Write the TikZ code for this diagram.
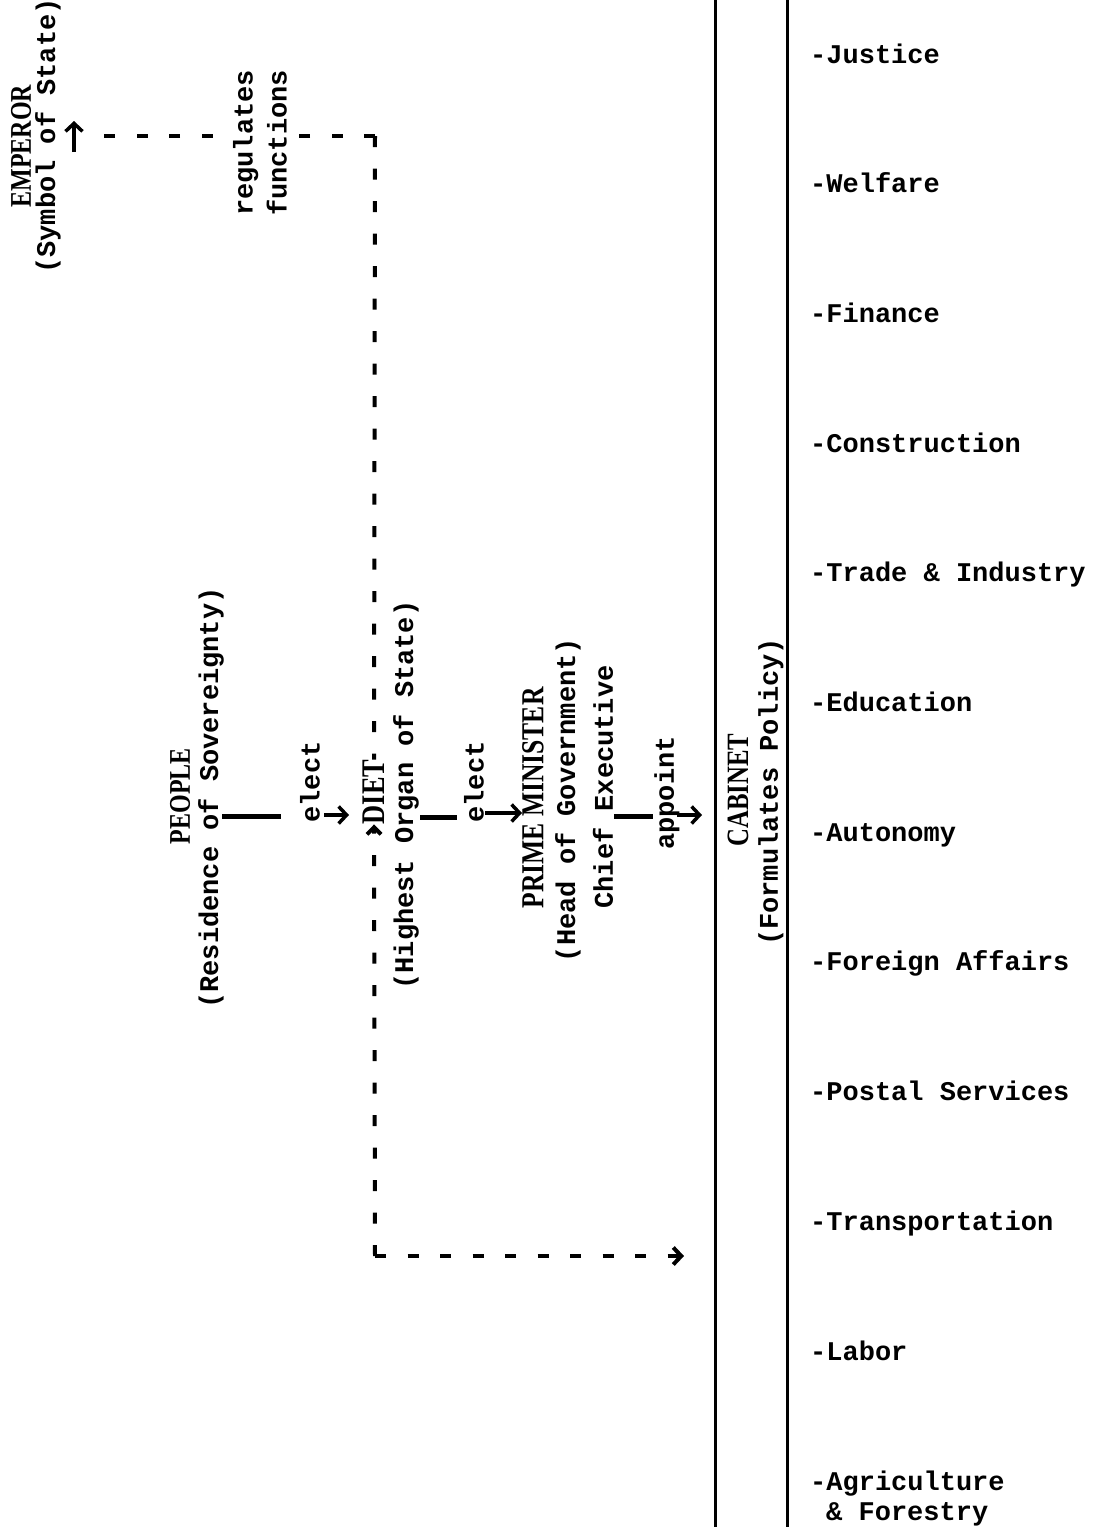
\documentclass[tikz,border=0pt]{standalone}
\usepackage{fontspec}
\setmonofont{Liberation Mono}
\newfontfamily\capsfont{Liberation Serif}[FakeStretch=0.8]
\usetikzlibrary{arrows.meta}

\tikzset{
  typeText/.style={font=\ttfamily\bfseries\fontsize{27}{30}\selectfont, inner sep=0pt},
  sideText/.style={typeText, rotate=90},
  capsText/.style={font=\capsfont\bfseries\fontsize{30}{34}\selectfont, inner sep=0pt, rotate=90},
  dashLine/.style={line width=4pt, dash pattern=on 11pt off 21.5pt},
  stemLine/.style={line width=5pt},
  typeArrow/.style={line width=3.5pt, -{Straight Barb[length=8pt,width=17pt]}},
  barLine/.style={line width=3pt},
}

\begin{document}
\begin{tikzpicture}[x=1pt,y=-1pt]
\definecolor{inkColor}{RGB}{0,0,0}
\useasboundingbox (0,0) rectangle (1102,1527);
\begin{scope}[inkColor]
% Cabinet frame
\coordinate (barAtop) at (715,0);
\coordinate (barAbot) at (715,1527);
\coordinate (barBtop) at (787,0);
\coordinate (barBbot) at (787,1527);
\draw[barLine] (barAtop) -- (barAbot);
\draw[barLine] (barBtop) -- (barBbot);

% Rotated headings
\node[capsText] (emperor)     at ( 21,146) {EMPEROR};
\node[sideText] (emperorNote) at ( 48,136) {(Symbol of State)};
\node[capsText] (people)      at (180,796) {PEOPLE};
\node[sideText] (peopleNote)  at (211,798) {(Residence of Sovereignty)};
\node[sideText] (electA)      at (310,782) {elect};
\node[capsText, font=\capsfont\bfseries\fontsize{33}{34}\selectfont]
                (diet)        at (374,792) {DIET};
\node[sideText] (dietNote)    at (406,795) {(Highest Organ of State)};
\node[sideText] (electB)      at (474,782) {elect};
\node[capsText, font=\capsfont\bfseries\fontsize{32}{34}\selectfont]
                (premier)     at (533,798) {PRIME MINISTER};
\node[sideText] (premierNote) at (568,800) {(Head of Government)};
\node[sideText] (premierRole) at (603,787) {Chief Executive};
\node[sideText] (appointLabel) at (667,793) {appoint};
\node[capsText, font=\capsfont\bfseries\fontsize{31}{34}\selectfont]
                (cabinet)     at (738,790) {CABINET};
\node[sideText] (cabinetNote) at (771,792) {(Formulates Policy)};

% Dashed control line
\coordinate (topCorner) at (375,136);
\coordinate (botCorner) at (375,1256);
\coordinate (empEnd)    at (92,136);
\coordinate (empTail)   at (74,152);
\coordinate (empHead)   at (74,121);
\coordinate (cabEnd)    at (684,1256);
\draw[dashLine] (topCorner) -- (empEnd);
\draw[typeArrow] (empTail) -- (empHead);
\node[sideText, fill=white, align=center, font=\ttfamily\bfseries\fontsize{27}{34}\selectfont]
  (functionsLabel) at (260,143) {regulates\\functions};
\draw[dashLine] (topCorner) -- (diet.east);
\draw[dashLine, -{Straight Barb[length=7pt,width=14pt]}] (botCorner) -- (diet.west);
\draw[dashLine, -{Straight Barb[length=8pt,width=17pt]}] (botCorner) -- (cabEnd);

% Elect / appoint links
\coordinate (stemAin)  at (222,816);
\coordinate (stemAout) at (281,816);
\coordinate (headAin)  at (324,815);
\coordinate (headAout) at (349,815);
\coordinate (stemBin)  at (420,817);
\coordinate (stemBout) at (457,817);
\coordinate (headBin)  at (485,813);
\coordinate (headBout) at (522,813);
\coordinate (stemCin)  at (614,816);
\coordinate (stemCout) at (653,816);
\coordinate (headCin)  at (677,815);
\coordinate (headCout) at (702,815);
\draw[stemLine]  (stemAin) -- (stemAout);
\draw[typeArrow] (headAin) -- (headAout);
\draw[stemLine]  (stemBin) -- (stemBout);
\draw[typeArrow] (headBin) -- (headBout);
\draw[stemLine]  (stemCin) -- (stemCout);
\draw[typeArrow] (headCin) -- (headCout);

% Ministries
\foreach \dept [count=\i from 0] in {Justice,Welfare,Finance,Construction,%
    Trade \& Industry,Education,Autonomy,Foreign Affairs,Postal Services,%
    Transportation,Labor}
  \node[typeText, anchor=base west] (dept\i) at (810,63+129.7*\i) {-\dept};
\node[typeText, anchor=west, align=left] (dept11) at (810,1498)
  {-Agriculture\\\hspace*{16pt}\& Forestry};
\end{scope}
\end{tikzpicture}
\end{document}
